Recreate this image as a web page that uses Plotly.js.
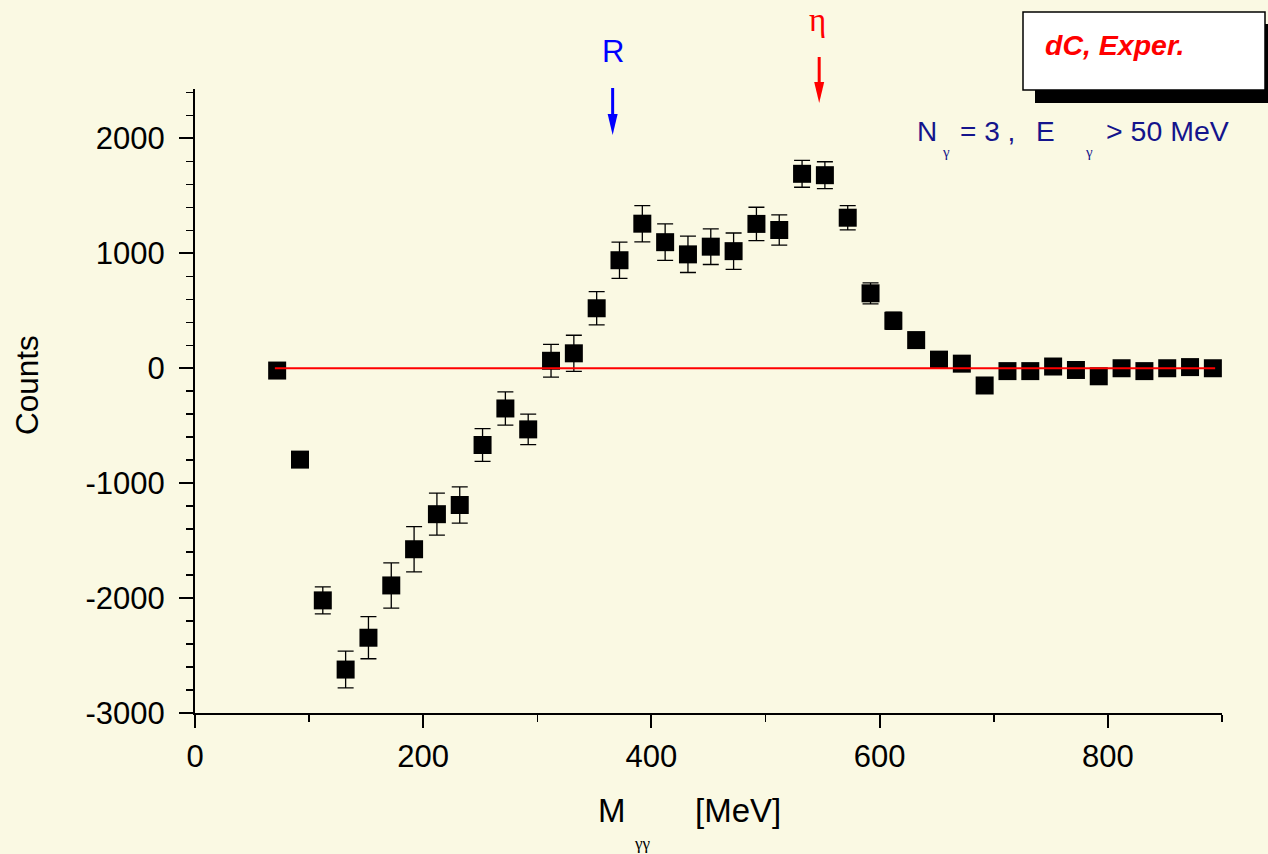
<!DOCTYPE html>
<html><head><meta charset="utf-8">
<script src="https://cdn.plot.ly/plotly-3.0.1.min.js"></script>
<style>html,body{margin:0;padding:0;background:#FAF9E3;}#chart{width:1268px;height:854px;}</style>
</head><body><div id="chart"></div>
<script>
// ---- data ----
const massMeV = [72, 92, 112, 132, 152, 172, 192, 212, 232, 252, 272, 292, 312, 332, 352, 372, 392, 412, 432, 452, 472,
                 492, 512, 532, 552, 572, 592, 612, 632, 652, 672, 692, 712, 732, 752, 772, 792, 812, 832, 852, 872, 892];
const counts = [-20, -795, -2020, -2622, -2345, -1890, -1575, -1270, -1190, -668, -350, -532, 65, 130, 522, 940, 1258, 1097, 991, 1058, 1019,
                1256, 1203, 1692, 1680, 1310, 652, 413, 245, 75, 40, -150, -25, -25, 15, -15, -70, 0, -25, 0, 10, 0];
const countErr = [40, 40, 117, 160, 183, 197, 197, 183, 157, 143, 145, 133, 143, 157, 145, 158, 158, 159, 158, 155, 158,
                  145, 132, 117, 117, 106, 91, 75, 60, 55, 45, 40, 35, 30, 30, 30, 30, 30, 30, 30, 30, 30];
const zeroLineX = [70, 894];
const zeroLineY = [0, 0];
const xTickVals = [0, 200, 400, 600, 800];
const yTickVals = [-3000, -2000, -1000, 0, 1000, 2000];
const rMass = 366;
const etaMass = 547;
const boxLabel = 'dC, Exper.';

// ---- layout helpers (pixel -> paper) ----
const L = 195, R = 46, T = 89, B = 141, W = 1268, H = 854;
const pw = W - L - R, ph = H - T - B;
const px = x => (x - L) / pw;
const py = y => (H - B - y) / ph;
const FONT = 'Liberation Sans, Arial, sans-serif';
const SERIF = 'Liberation Serif, Times New Roman, serif';

const traces = [
  {
    x: massMeV, y: counts, type: 'scatter', mode: 'markers',
    marker: {symbol: 'square', size: 18, color: '#000000', line: {width: 0}},
    error_y: {type: 'data', array: countErr, visible: true, color: '#000000', thickness: 1.3, width: 8},
    cliponaxis: false, showlegend: false, hoverinfo: 'x+y'
  },
  {
    x: zeroLineX, y: zeroLineY, type: 'scatter', mode: 'lines',
    line: {color: '#FF0000', width: 2}, showlegend: false, hoverinfo: 'skip'
  }
];

function arrowShapes(mass, yTop, yTip, color) {
  const xc = mass / 900;
  const hw = 5 / pw;
  const headLen = 21;
  return [
    {type: 'line', xref: 'paper', yref: 'paper', x0: xc, x1: xc, y0: py(yTop), y1: py(yTip - headLen + 2),
     line: {color: color, width: 3}},
    {type: 'path', xref: 'paper', yref: 'paper',
     path: `M ${xc - hw} ${py(yTip - headLen)} L ${xc + hw} ${py(yTip - headLen)} L ${xc} ${py(yTip)} Z`,
     fillcolor: color, line: {color: color, width: 0}}
  ];
}

const shapes = [
  // shadow of label box
  {type: 'rect', xref: 'paper', yref: 'paper', x0: px(1035), x1: px(1290), y0: py(103), y1: py(24),
   fillcolor: '#000000', line: {width: 0}},
  // label box
  {type: 'rect', xref: 'paper', yref: 'paper', x0: px(1023), x1: px(1265), y0: py(90), y1: py(12),
   fillcolor: '#FFFFFF', line: {color: '#000000', width: 1.5}},
  ...arrowShapes(rMass, 88, 135, '#0000FF'),
  ...arrowShapes(etaMass, 57, 103, '#FF0000')
];

const navy = '#14148C';
const ann = (x, y, text, size, color, extra) => Object.assign({
  xref: 'paper', yref: 'paper', x: px(x), y: py(y), text: text, showarrow: false,
  xanchor: 'center', yanchor: 'middle', font: {family: FONT, size: size, color: color}
}, extra || {});

const annotations = [
  ann(1114, 45, '<b><i>' + boxLabel + '</i></b>', 28.5, '#FF0000'),
  ann(613, 51, 'R', 31, '#0000FF'),
  ann(817, 20, 'η', 30, '#FF0000', {font: {family: SERIF, size: 33, color: '#FF0000'}}),
  ann(915, 131, 'N', 28, navy, {xanchor: 'left'}),
  ann(946, 152, 'γ', 14, navy, {font: {family: SERIF, size: 15, color: navy}}),
  ann(958, 131, '= 3 ,', 28, navy, {xanchor: 'left'}),
  ann(1034, 131, 'E', 28, navy, {xanchor: 'left'}),
  ann(1089, 152, 'γ', 14, navy, {font: {family: SERIF, size: 15, color: navy}}),
  ann(1104, 131, '&gt; 50 MeV', 28.5, navy, {xanchor: 'left'}),
  ann(27, 385, 'Counts', 31.5, '#000000', {textangle: -90}),
  ann(612, 810, 'M', 33, '#000000'),
  ann(642, 843, 'γγ', 16, '#000000', {font: {family: SERIF, size: 17, color: '#000000'}}),
  ann(738, 810, '[MeV]', 33, '#000000')
];

const layout = {
  width: W, height: H,
  margin: {l: L, r: R, t: T, b: B, pad: 0},
  paper_bgcolor: '#FAF9E3', plot_bgcolor: '#FAF9E3',
  font: {family: FONT, color: '#000000'},
  showlegend: false,
  xaxis: {
    range: [0, 900], showgrid: false, zeroline: false,
    showline: true, linecolor: '#000000', linewidth: 2, mirror: false,
    tickmode: 'array', tickvals: xTickVals, ticktext: xTickVals.map(String),
    ticks: 'outside', ticklen: 13, tickwidth: 2, tickcolor: '#000000',
    ticklabelstandoff: 2,
    tickfont: {family: FONT, size: 31, color: '#000000'},
    minor: {dtick: 100, tick0: 0, ticks: 'outside', ticklen: 7, tickwidth: 1.5, tickcolor: '#000000', showgrid: false}
  },
  yaxis: {
    range: [-3000, 2430], showgrid: false, zeroline: false,
    showline: true, linecolor: '#000000', linewidth: 2, mirror: false,
    tickmode: 'array', tickvals: yTickVals, ticktext: yTickVals.map(String),
    ticks: 'outside', ticklen: 14, tickwidth: 2, tickcolor: '#000000',
    ticklabelstandoff: 8,
    tickfont: {family: FONT, size: 31, color: '#000000'},
    minor: {dtick: 200, tick0: 0, ticks: 'outside', ticklen: 7, tickwidth: 1.5, tickcolor: '#000000', showgrid: false}
  },
  shapes: shapes,
  annotations: annotations
};

Plotly.newPlot('chart', traces, layout, {displayModeBar: false, staticPlot: true});
</script>
</body></html>
